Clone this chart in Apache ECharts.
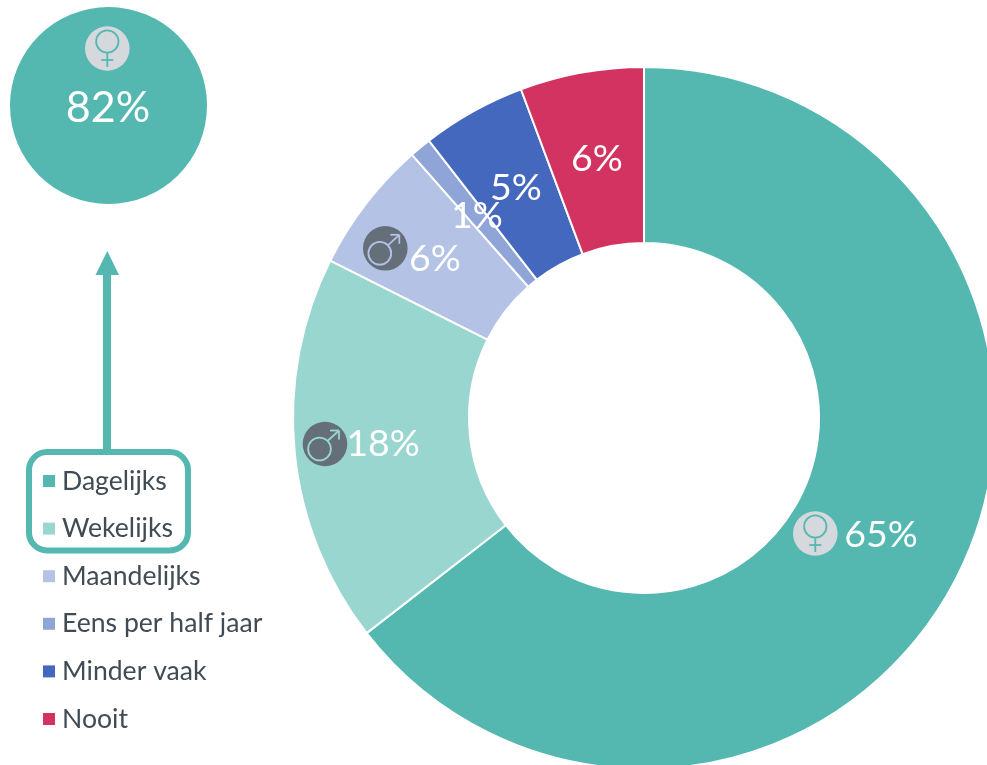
<!DOCTYPE html>
<html>
<head>
<meta charset="utf-8">
<title>Frequentie</title>
<script src="https://cdn.jsdelivr.net/npm/echarts@6/dist/echarts.min.js"></script>
<style>
  html, body { margin: 0; padding: 0; background: #fff; }
  #main { width: 987px; height: 765px; }
</style>
</head>
<body>
<div id="main"></div>
<script>
const categories = ["Dagelijks", "Wekelijks", "Maandelijks", "Eens per half jaar", "Minder vaak", "Nooit"];
const shares = [64.5, 17.9, 6.1, 1.0, 4.8, 5.7];
const colors = ["#54b8b0", "#9ad6d0", "#b3c2e5", "#8fa5d8", "#4568bf", "#d33361"];
const womenShare = "82%";

const teal = "#54b8b0";
const fontFamily = "Lato";

// waar de labels in de ring staan (midden van de tekst)
const labelSpots = [[881, 535], [383, 444], [435, 259], [477, 216], [516, 188], [597, 159]];

function femaleIcon(cx, cy, stroke) {
  const line = { stroke: stroke, lineWidth: 1.8, fill: null };
  return [
    { type: "circle", z: 10, shape: { cx: cx, cy: cy, r: 22.3 }, style: { fill: "#d5d8dc" } },
    { type: "circle", z: 11, shape: { cx: cx, cy: cy - 7, r: 11.2 }, style: line },
    { type: "line", z: 11, shape: { x1: cx, y1: cy + 4.2, x2: cx, y2: cy + 18.5 }, style: line },
    { type: "line", z: 11, shape: { x1: cx - 6, y1: cy + 11.5, x2: cx + 6, y2: cy + 11.5 }, style: line }
  ];
}

function maleIcon(cx, cy, stroke) {
  const line = { stroke: stroke, lineWidth: 1.8, fill: null };
  const tipX = cx + 14;
  const tipY = cy - 13.5;
  return [
    { type: "circle", z: 10, shape: { cx: cx, cy: cy, r: 22.3 }, style: { fill: "#646f79" } },
    { type: "circle", z: 11, shape: { cx: cx - 5.5, cy: cy + 5, r: 11.4 }, style: line },
    { type: "line", z: 11, shape: { x1: cx + 2.5, y1: cy - 3, x2: tipX, y2: tipY }, style: line },
    { type: "line", z: 11, shape: { x1: tipX - 9, y1: tipY, x2: tipX, y2: tipY }, style: line },
    { type: "line", z: 11, shape: { x1: tipX, y1: tipY, x2: tipX, y2: tipY + 9 }, style: line }
  ];
}

const chart = echarts.init(document.getElementById("main"));

const option = {
  animation: false,
  backgroundColor: "#fff",
  color: colors,
  legend: {
    orient: "vertical",
    left: 38,
    top: 461,
    padding: [5, 5],
    icon: "rect",
    itemWidth: 12,
    itemHeight: 12,
    itemGap: 17.6,
    itemStyle: { borderWidth: 0 },
    data: categories,
    textStyle: {
      fontFamily: fontFamily,
      fontSize: 26.6,
      color: "#404b54",
      lineHeight: 30,
      padding: [0, 0, 0, 2]
    }
  },
  series: [{
    name: "Frequentie",
    type: "pie",
    center: [644, 418],
    radius: [175, 351],
    startAngle: 90,
    clockwise: true,
    avoidLabelOverlap: false,
    itemStyle: { borderColor: "#fff", borderWidth: 2 },
    label: {
      show: true,
      position: "inside",
      color: "#fff",
      fontFamily: fontFamily,
      fontSize: 37.5,
      formatter: function (p) {
        return Math.round(p.value) + "%";
      }
    },
    labelLine: { show: false },
    labelLayout: function (p) {
      const spot = labelSpots[p.dataIndex];
      return { x: spot[0], y: spot[1], align: "center", verticalAlign: "middle" };
    },
    data: categories.map(function (name, i) {
      return { name: name, value: shares[i] };
    })
  }],
  graphic: [
    // cirkel vrouwen
    { type: "circle", z: 5, shape: { cx: 108.5, cy: 105.5, r: 98.5 }, style: { fill: teal } },
    {
      type: "text",
      z: 6,
      x: 108,
      y: 108,
      style: {
        text: womenShare,
        fill: "#fff",
        font: "43px " + fontFamily,
        textAlign: "center",
        textVerticalAlign: "middle"
      }
    },
    // pijl
    { type: "rect", z: 5, shape: { x: 103, y: 272, width: 8, height: 180 }, style: { fill: teal } },
    { type: "polygon", z: 5, shape: { points: [[95.5, 275], [119, 275], [107.3, 251]] }, style: { fill: teal } },
    // kader om legenda
    {
      type: "rect",
      z: 5,
      shape: { x: 29, y: 452, width: 159, height: 98.5, r: 18 },
      style: { fill: null, stroke: teal, lineWidth: 6 }
    }
  ]
    .concat(femaleIcon(107.3, 48.5, teal))
    .concat(femaleIcon(815.3, 533.5, teal))
    .concat(maleIcon(385.3, 248.3, colors[2]))
    .concat(maleIcon(325, 444, colors[1]))
};

chart.setOption(option);

window.addEventListener("resize", function () {
  chart.resize();
});
</script>
</body>
</html>
